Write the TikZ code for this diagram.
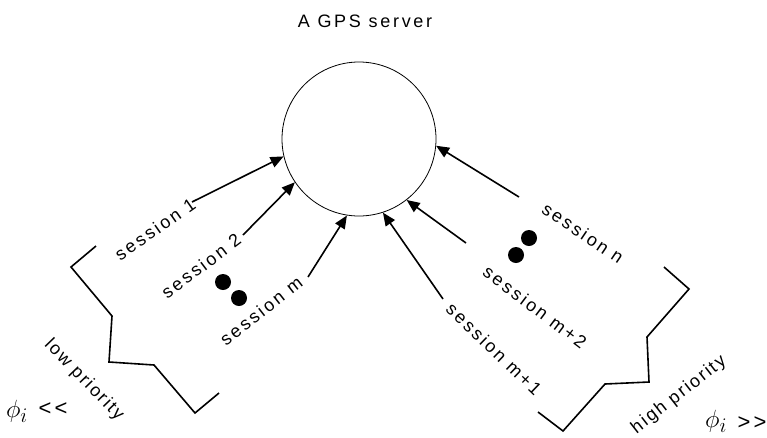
\documentclass[tikz,border=0pt]{standalone}
\usepackage{fontspec}
\usetikzlibrary{arrows.meta}
% Sans families: spaced labels and a plain one
\newfontfamily\lblfont[LetterSpace=14]{Liberation Sans}
\newfontfamily\prifont[LetterSpace=11]{Liberation Sans}
\newfontfamily\ttlfont[LetterSpace=15]{Liberation Sans}
\begin{document}
\begin{tikzpicture}[x=1pt,y=-1pt,
  lbl/.style={font=\lblfont\fontsize{18}{21}\selectfont, inner sep=0pt},
  prilbl/.style={font=\prifont\fontsize{18}{21}\selectfont, inner sep=0pt},
  cmp/.style={font=\lblfont\fontsize{22}{26}\selectfont, inner sep=0pt},
  weight/.style={font=\fontsize{30}{34}\selectfont, inner sep=0pt},
  feed/.style={line width=1.6pt, -{Triangle[length=13pt,width=11pt]}},
  brk/.style={line width=1.6pt, line join=miter},
  dotmark/.style={circle, fill=black, minimum size=16pt, inner sep=0pt}]

\useasboundingbox (0,0) rectangle (767,437);

% server
\node[font=\ttlfont\fontsize{18}{21}\selectfont, inner sep=0pt] (title) at (365,21) {A GPS server};
\node[circle, draw, line width=0.8pt, minimum size=154pt, inner sep=0pt] (srv) at (359,139) {};

% session feeds
\coordinate (t1)  at (192,202);
\coordinate (t2)  at (243,235);
\coordinate (tm)  at (308,277);
\coordinate (tn)  at (519,197);
\coordinate (tm2) at (466,243);
\coordinate (tm1) at (443,299);
\draw[feed] (t1)  -- (srv.193);
\draw[feed] (t2)  -- (srv.214.5);
\draw[feed] (tm)  -- (srv.261);
\draw[feed] (tn)  -- (srv.355);
\draw[feed] (tm2) -- (srv.308);
\draw[feed] (tm1) -- (srv.288);

% session labels
\node[lbl, rotate=35]  (s1)  at (155,229) {session 1};
\node[lbl, rotate=37]  (s2)  at (201,266) {session 2};
\node[lbl, rotate=38]  (sm)  at (261,311) {session m};
\node[lbl, rotate=-34] (sn)  at (583,233) {session n};
\node[lbl, rotate=-37] (sm2) at (535,307) {session m+2};
\node[lbl, rotate=-44] (sm1) at (494,349) {session m+1};

% ellipsis dots
\node[dotmark] (d1) at (223,282) {};
\node[dotmark] (d2) at (239,298) {};
\node[dotmark] (d3) at (529,238) {};
\node[dotmark] (d4) at (516,255) {};

% priority brackets
\draw[brk] (96,246) -- (71,267) -- (112,316) -- (109,362) -- (154,365) -- (195,413) -- (219,393);
\draw[brk] (664,267) -- (689,289) -- (647,337) -- (649,382) -- (605,384) -- (563,431) -- (538,412);

\node[prilbl, rotate=-46] (lowp)  at (84,380)  {low priority};
\node[prilbl, rotate=38]  (highp) at (679,395) {high priority};

% weights
\node[weight] (phil) at (17,411) {$\phi_i$};
\node[cmp]    (ltl)  at (53,409) {<<};
\node[weight] (phir) at (716,421) {$\phi_i$};
\node[cmp]    (gtr)  at (752,423) {>>};
\end{tikzpicture}
\end{document}
